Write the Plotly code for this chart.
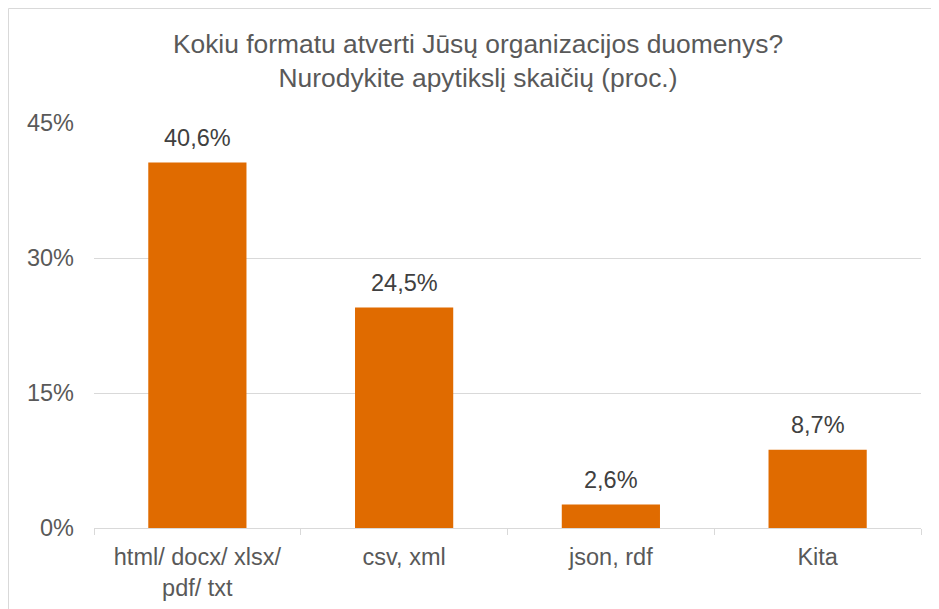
import plotly.graph_objects as go

categories = ["html/ docx/ xlsx/<br>pdf/ txt", "csv, xml", "json, rdf", "Kita"]
values = [40.6, 24.5, 2.6, 8.7]
labels = ["40,6%", "24,5%", "2,6%", "8,7%"]
y_ticks = [0, 15, 30, 45]
y_tick_text = ["0%", "15%", "30%", "45%"]
title_text = "Kokiu formatu atverti Jūsų organizacijos duomenys?<br>Nurodykite apytikslį skaičių (proc.)"

BAR = "#E06B00"
TXT = "#595959"
GRID = "#D9D9D9"
FONT = "Liberation Sans, Arial, sans-serif"

fig = go.Figure()
fig.add_trace(go.Bar(x=categories, y=values, marker=dict(color=BAR, line=dict(width=0)),
                     width=0.475, hoverinfo="skip"))

for c, v, t in zip(categories, values, labels):
    fig.add_annotation(x=c, y=v, text=t, showarrow=False, yanchor="middle",
                       yshift=25, font=dict(family=FONT, size=23.5, color="#404040"))

W, H = 939, 609
L, R, T, B = 86, 26, 115, 89
pw, ph = W - L - R, H - T - B

# outer chart border (left and top visible)
fig.add_shape(type="rect", xref="paper", yref="paper",
              x0=(0.5 - L) / pw, x1=(W + 10 - L) / pw,
              y0=(H - B - (H + 10)) / ph, y1=(H - B - 0.5) / ph,
              line=dict(color=GRID, width=1), fillcolor="rgba(0,0,0,0)", layer="below")

fig.update_layout(
    width=W, height=H,
    margin=dict(l=L, r=R, t=T, b=B),
    paper_bgcolor="white", plot_bgcolor="white",
    showlegend=False,
    bargap=0.525,
    font=dict(family=FONT, color=TXT),
    title=dict(text=title_text, x=470 / W, xanchor="center", xref="container",
               y=1 - 45 / H, yanchor="middle", yref="container",
               font=dict(family=FONT, size=26.4, color=TXT)),
    xaxis=dict(type="category", showline=True, linecolor=GRID, linewidth=1,
               ticks="outside", tickson="boundaries", ticklen=6, tickcolor=GRID,
               ticklabelstandoff=8,
               showgrid=False, tickfont=dict(family=FONT, size=23.5, color=TXT)),
    yaxis=dict(range=[0, 45], tickvals=y_ticks, ticktext=y_tick_text,
               showgrid=True, gridcolor=GRID, gridwidth=1, zeroline=False,
               showline=False, ticks="", ticklabelstandoff=19,
               tickfont=dict(family=FONT, size=23.5, color=TXT)),
)

fig.write_html("out.html")
